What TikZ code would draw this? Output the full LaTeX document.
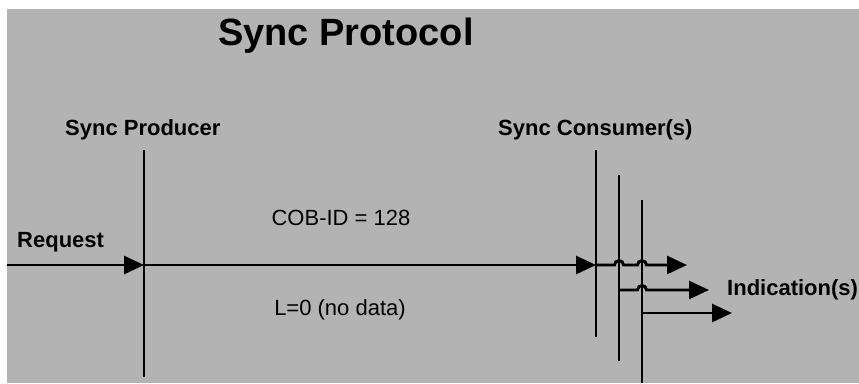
\documentclass[tikz,border=0pt]{standalone}
\usepackage{fontspec}
\setmainfont{Liberation Sans}
\usetikzlibrary{arrows.meta,positioning}
\definecolor{spgray}{HTML}{B3B3B3}

\begin{document}
\begin{tikzpicture}[x=1pt,y=-1pt,
  lbl/.style={font=\fontsize{22}{26}\selectfont\bfseries,inner sep=0pt,anchor=base west},
  msg/.style={font=\fontsize{22}{26}\selectfont,inner sep=0pt,anchor=base},
  ln/.style={line width=2.9pt},
  ar/.style={-{Triangle[length=20pt,width=18pt]},line width=2.9pt},
  hop/.style={start angle=180,end angle=0,radius=4.5pt}]
  \useasboundingbox (0,0) rectangle (859,383);
  \fill[spgray] (7,9) rectangle (859,383);
  \node[font=\fontsize{38}{44}\selectfont\bfseries,inner sep=0pt,anchor=base] (title) at (346,45) {Sync Protocol};
  \node[lbl] (prod) at (65,135) {Sync Producer};
  \node[lbl] (cons) at (498,135) {Sync Consumer(s)};
  \node[lbl] (req) at (17,247) {Request};
  \node[lbl] (ind) at (727,295) {Indication(s)};
  \node[msg] (cob) at (341,225) {COB-ID = 128};
  \node[msg] (len) at (340,315) {L=0 (no data)};
  % time lines
  \coordinate (pt) at (144,150); \coordinate (pb) at (144,377);
  \coordinate (c1t) at (596,150); \coordinate (c1b) at (596,337);
  \coordinate (c2t) at (619,175); \coordinate (c2b) at (619,361);
  \coordinate (c3t) at (642,200); \coordinate (c3b) at (642,383);
  \draw[ln] (pt) -- (pb);
  \draw[ln] (c1t) -- (c1b);
  \draw[ln] (c2t) -- (c2b);
  \draw[ln] (c3t) -- (c3b);
  % messages
  \coordinate (src) at (7,265);
  \coordinate (pm) at (144,265);
  \coordinate (c1m) at (596,265);
  \coordinate (c2m) at (619,290);
  \coordinate (c3m) at (642,313);
  \coordinate (o1) at (687,265);
  \coordinate (o2) at (709,290);
  \coordinate (o3) at (732,313);
  \draw[ar] (src) -- (pm);
  \draw[ar] (pm) -- (c1m);
  \draw[ar] (c1m) -- (614.5,265) arc[hop] -- (637.5,265) arc[hop] -- (o1);
  \draw[ar] (c2m) -- (637.5,290) arc[hop] -- (o2);
  \draw[ar] (c3m) -- (o3);
\end{tikzpicture}
\end{document}
